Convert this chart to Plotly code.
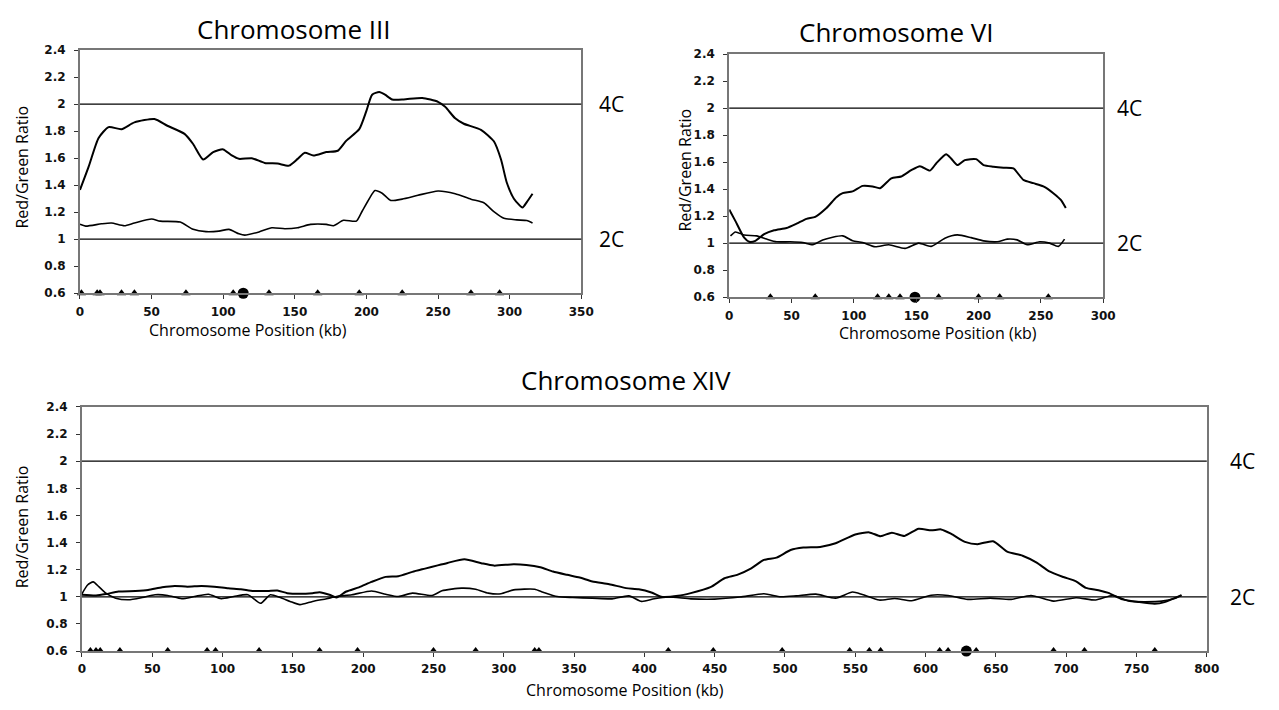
import plotly.graph_objects as go

W, H = 1279, 710

# ---------------- Data ----------------
# Chromosome III
c3_upper_x = [0, 6, 13, 20, 29, 38, 52, 61, 73, 79, 86, 93, 100, 106, 111, 120, 129, 138, 146, 152, 157, 163, 172, 180, 186, 195, 200, 204, 209, 213, 218, 226, 239, 250, 255, 262, 268, 280, 289, 294, 298, 303, 309, 312, 316]
c3_upper_y = [1.365, 1.535, 1.75, 1.83, 1.815, 1.865, 1.89, 1.84, 1.78, 1.705, 1.59, 1.645, 1.665, 1.62, 1.595, 1.60, 1.565, 1.56, 1.545, 1.595, 1.64, 1.62, 1.645, 1.655, 1.73, 1.815, 1.95, 2.07, 2.09, 2.07, 2.035, 2.035, 2.046, 2.017, 1.98, 1.895, 1.855, 1.81, 1.725, 1.59, 1.42, 1.30, 1.235, 1.275, 1.337]
c3_lower_x = [0, 4, 15, 22, 31, 38, 50, 56, 70, 79, 88, 97, 104, 111, 115, 125, 134, 143, 152, 161, 172, 177, 184, 193, 197, 202, 206, 211, 217, 225, 236, 250, 262, 273, 282, 289, 296, 305, 312, 316]
c3_lower_y = [1.11, 1.097, 1.114, 1.12, 1.10, 1.12, 1.15, 1.134, 1.127, 1.073, 1.056, 1.06, 1.073, 1.04, 1.03, 1.054, 1.085, 1.078, 1.085, 1.11, 1.11, 1.10, 1.14, 1.134, 1.207, 1.30, 1.36, 1.34, 1.287, 1.297, 1.325, 1.357, 1.337, 1.296, 1.27, 1.204, 1.155, 1.143, 1.138, 1.12]
c3_triangles = [1, 12, 14, 29, 38, 74, 107, 132, 166, 195, 225, 273, 293]
c3_centromere = [114]

# Chromosome VI
c6_upper_x = [0, 5, 12, 16, 21, 28, 36, 46, 54, 62, 69, 78, 86, 91, 99, 107, 115, 121, 130, 138, 146, 153, 161, 166, 174, 178, 183, 189, 198, 204, 212, 220, 228, 236, 244, 252, 260, 266, 270]
c6_upper_y = [1.249, 1.163, 1.04, 1.01, 1.017, 1.066, 1.095, 1.112, 1.144, 1.18, 1.195, 1.26, 1.34, 1.37, 1.383, 1.424, 1.42, 1.407, 1.48, 1.493, 1.54, 1.57, 1.537, 1.59, 1.658, 1.627, 1.578, 1.615, 1.622, 1.578, 1.566, 1.558, 1.553, 1.468, 1.444, 1.42, 1.37, 1.32, 1.26]
c6_lower_x = [1, 5, 12, 22, 30, 38, 49, 59, 67, 75, 91, 99, 107, 117, 128, 141, 152, 162, 173, 183, 194, 204, 215, 223, 231, 239, 249, 257, 264, 269]
c6_lower_y = [1.054, 1.083, 1.06, 1.054, 1.03, 1.01, 1.01, 1.005, 0.988, 1.024, 1.054, 1.017, 1.005, 0.973, 0.988, 0.961, 1.0, 0.976, 1.037, 1.061, 1.041, 1.017, 1.01, 1.03, 1.024, 0.988, 1.01, 1.0, 0.976, 1.03]
c6_triangles = [33, 69, 119, 128, 137, 168, 200, 217, 256]
c6_centromere = [149]

# Chromosome XIV
c14_upper_x = [0, 10, 17, 26, 38, 47, 57, 66, 75, 85, 94, 104, 113, 122, 132, 139, 146, 155, 164, 169, 176, 181, 188, 197, 206, 216, 225, 235, 244, 253, 260, 272, 284, 293, 307, 316, 326, 335, 345, 354, 363, 375, 387, 396, 405, 412, 424, 433, 447, 457, 466, 476, 485, 494, 504, 513, 525, 536, 550, 560, 568, 576, 585, 595, 604, 611, 618, 628, 637, 648, 658, 669, 679, 688, 698, 707, 714, 723, 730, 740, 752, 763, 770, 782]
c14_upper_y = [1.015, 1.01, 1.02, 1.039, 1.043, 1.05, 1.07, 1.08, 1.075, 1.08, 1.075, 1.063, 1.056, 1.043, 1.043, 1.046, 1.027, 1.022, 1.027, 1.034, 1.015, 0.995, 1.039, 1.07, 1.11, 1.147, 1.152, 1.184, 1.208, 1.232, 1.25, 1.277, 1.248, 1.23, 1.24, 1.235, 1.218, 1.186, 1.162, 1.142, 1.113, 1.093, 1.064, 1.056, 1.032, 1.0, 1.007, 1.027, 1.071, 1.137, 1.162, 1.21, 1.272, 1.289, 1.345, 1.363, 1.368, 1.395, 1.46, 1.475, 1.447, 1.473, 1.449, 1.502, 1.49, 1.497, 1.466, 1.405, 1.388, 1.41, 1.333, 1.303, 1.252, 1.187, 1.146, 1.114, 1.066, 1.049, 1.029, 0.981, 0.961, 0.949, 0.961, 1.012]
c14_lower_x = [0, 4, 8, 12, 17, 24, 33, 43, 52, 61, 71, 80, 90, 99, 108, 118, 127, 134, 141, 148, 155, 164, 174, 181, 192, 206, 216, 225, 235, 249, 256, 270, 280, 289, 298, 307, 322, 328, 338, 349, 363, 377, 389, 398, 407, 417, 433, 450, 468, 485, 497, 508, 522, 536, 548, 555, 567, 578, 590, 604, 616, 630, 646, 661, 675, 691, 707, 721, 733, 745, 756, 768, 777, 782]
c14_lower_y = [1.022, 1.087, 1.11, 1.075, 1.027, 0.99, 0.978, 0.995, 1.015, 1.01, 0.986, 1.002, 1.019, 0.986, 1.002, 1.015, 0.952, 1.015, 0.995, 0.966, 0.942, 0.966, 0.986, 1.002, 1.015, 1.043, 1.019, 1.002, 1.027, 1.01, 1.044, 1.064, 1.056, 1.027, 1.022, 1.051, 1.056, 1.034, 1.002, 0.995, 0.99, 0.985, 1.007, 0.966, 0.985, 0.998, 0.985, 0.983, 0.998, 1.022, 1.0, 1.007, 1.02, 0.99, 1.035, 1.017, 0.976, 0.988, 0.971, 1.012, 1.01, 0.981, 0.99, 0.981, 1.01, 0.968, 0.993, 0.976, 1.01, 0.968, 0.964, 0.968, 0.988, 1.012]
c14_triangles = [6, 10, 13, 27, 61, 89, 95, 126, 169, 196, 250, 280, 322, 325, 417, 449, 498, 546, 560, 568, 610, 616, 636, 691, 713, 763]
c14_centromere = [629]

y_ticks = [0.6, 0.8, 1, 1.2, 1.4, 1.6, 1.8, 2, 2.2, 2.4]
y_ticktext = ["0.6", "0.8", "1", "1.2", "1.4", "1.6", "1.8", "2", "2.2", "2.4"]

panels = [
    dict(name="Chromosome III", ux=c3_upper_x, uy=c3_upper_y, lx=c3_lower_x, ly=c3_lower_y,
         tri=c3_triangles, cen=c3_centromere, xmax=350, dtick=50,
         box=(77, 585, 44, 292), title=(294, 22), xtitle=(247, 329), ytitle=(18, 163), clab=616),
    dict(name="Chromosome VI", ux=c6_upper_x, uy=c6_upper_y, lx=c6_lower_x, ly=c6_lower_y,
         tri=c6_triangles, cen=c6_centromere, xmax=300, dtick=50,
         box=(735, 1114, 48, 296), title=(905, 25), xtitle=(947, 333), ytitle=(690, 166), clab=1141),
    dict(name="Chromosome XIV", ux=c14_upper_x, uy=c14_upper_y, lx=c14_lower_x, ly=c14_lower_y,
         tri=c14_triangles, cen=c14_centromere, xmax=800, dtick=50,
         box=(79, 1219, 408, 657), title=(630, 380), xtitle=(629, 697), ytitle=(18, 530), clab=1255),
]

fig = go.Figure()
tick_font = dict(family="DejaVu Sans", size=12, color="#111", weight="bold")
annotations = []
shapes = []
layout = {}


def px(x):
    return x / W


def py(y):
    return 1 - y / H


for i, p in enumerate(panels, start=1):
    xa = "x" if i == 1 else f"x{i}"
    ya = "y" if i == 1 else f"y{i}"
    xkey = "xaxis" if i == 1 else f"xaxis{i}"
    ykey = "yaxis" if i == 1 else f"yaxis{i}"
    x0, x1, y0, y1 = p["box"]
    layout[xkey] = dict(domain=[px(x0), px(x1)], range=[0, p["xmax"]], anchor=ya,
                        tickmode="linear", tick0=0, dtick=p["dtick"], ticks="outside", ticklen=4,
                        tickcolor="#333", showgrid=False, zeroline=False, showline=True,
                        linecolor="#777", linewidth=2, mirror=True, tickfont=tick_font,
                        ticklabelstandoff=2, fixedrange=True)
    layout[ykey] = dict(domain=[py(y1), py(y0)], range=[0.6, 2.4], anchor=xa,
                        tickmode="array", tickvals=y_ticks, ticktext=y_ticktext, ticks="outside",
                        ticklen=4, tickcolor="#333", showgrid=False, zeroline=False, showline=True,
                        linecolor="#777", linewidth=2, mirror=True, tickfont=tick_font,
                        ticklabelstandoff=6, fixedrange=True)
    for lvl in (1, 2):
        shapes.append(dict(type="line", xref=f"{xa} domain", yref=ya, x0=0, x1=1, y0=lvl, y1=lvl,
                           line=dict(color="black", width=1.2)))
    fig.add_trace(go.Scatter(x=p["lx"], y=p["ly"], mode="lines", xaxis=xa, yaxis=ya,
                             line=dict(color="black", width=1.6, shape="spline", smoothing=0.6),
                             showlegend=False, hoverinfo="skip"))
    fig.add_trace(go.Scatter(x=p["ux"], y=p["uy"], mode="lines", xaxis=xa, yaxis=ya,
                             line=dict(color="black", width=2, shape="spline", smoothing=0.6),
                             showlegend=False, hoverinfo="skip"))
    fig.add_trace(go.Scatter(x=p["tri"], y=[0.6] * len(p["tri"]), mode="markers", xaxis=xa, yaxis=ya,
                             marker=dict(symbol="triangle-up", size=8, color="black"),
                             cliponaxis=False, showlegend=False, hoverinfo="skip"))
    fig.add_trace(go.Scatter(x=p["cen"], y=[0.6] * len(p["cen"]), mode="markers", xaxis=xa, yaxis=ya,
                             marker=dict(symbol="circle", size=11, color="black"),
                             cliponaxis=False, showlegend=False, hoverinfo="skip"))
    annotations.append(dict(text=p["name"], x=px(p["title"][0]), y=py(p["title"][1]), xref="paper",
                            yref="paper", showarrow=False, xanchor="center", yanchor="middle",
                            font=dict(family="Open Sans", size=26, color="black")))
    annotations.append(dict(text="Chromosome Position (kb)", x=px(p["xtitle"][0]), y=py(p["xtitle"][1]),
                            xref="paper", yref="paper", showarrow=False, xanchor="center",
                            yanchor="middle", font=dict(family="Open Sans", size=16, color="black")))
    annotations.append(dict(text="Red/Green Ratio", x=px(p["ytitle"][0]), y=py(p["ytitle"][1]),
                            xref="paper", yref="paper", showarrow=False, xanchor="center",
                            yanchor="middle", textangle=-90,
                            font=dict(family="Open Sans", size=16, color="black")))
    for lvl, lab in ((2, "4C"), (1, "2C")):
        annotations.append(dict(text=lab, x=px(p["clab"]), y=lvl, xref="paper", yref=ya,
                                showarrow=False, xanchor="center", yanchor="middle",
                                font=dict(family="Open Sans", size=21, color="black")))

fig.update_layout(width=W, height=H, margin=dict(l=0, r=0, t=0, b=0),
                  paper_bgcolor="white", plot_bgcolor="white",
                  annotations=annotations, shapes=shapes, **layout)

fig.write_html("out.html")
